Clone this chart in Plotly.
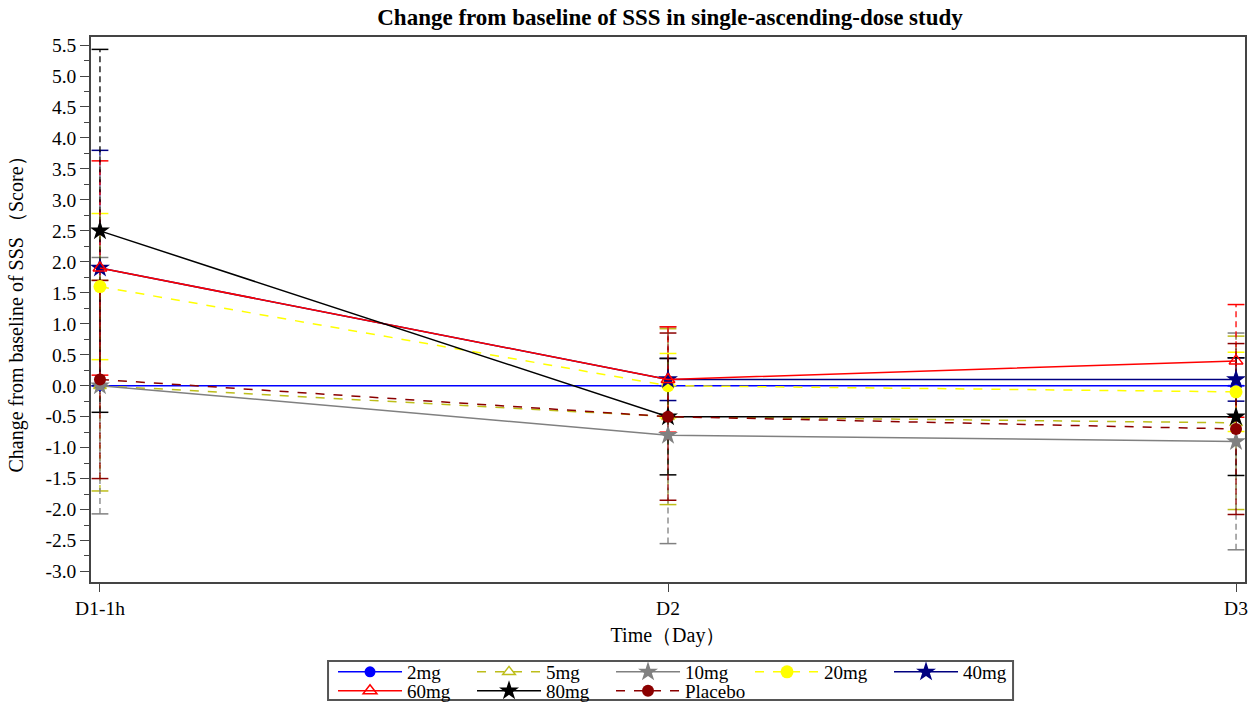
import plotly.graph_objects as go

categories = ["D1-1h", "D2", "D3"]

groups = ["2mg", "5mg", "10mg", "20mg", "40mg", "60mg", "80mg", "Placebo"]

mean_2mg = [0.0, 0.0, 0.0]
sd_2mg = [0.0, 0.0, 0.0]
mean_5mg = [0.0, -0.5, -0.6]
sd_5mg = [1.7, 1.42, 1.4]
mean_10mg = [0.0, -0.8, -0.9]
sd_10mg = [2.07, 1.75, 1.75]
mean_20mg = [1.6, 0.0, -0.1]
sd_20mg = [1.18, 0.52, 0.64]
mean_40mg = [1.9, 0.1, 0.1]
sd_40mg = [1.9, 0.34, 0.35]
mean_60mg = [1.9, 0.1, 0.4]
sd_60mg = [1.73, 0.85, 0.91]
mean_80mg = [2.5, -0.5, -0.5]
sd_80mg = [2.93, 0.94, 0.95]
mean_placebo = [0.1, -0.5, -0.7]
sd_placebo = [1.6, 1.35, 1.38]

y_tickvals = [-3.0, -2.5, -2.0, -1.5, -1.0, -0.5, 0.0, 0.5, 1.0, 1.5, 2.0, 2.5,
              3.0, 3.5, 4.0, 4.5, 5.0, 5.5]
y_ticktext = ["-3.0", "-2.5", "-2.0", "-1.5", "-1.0", "-0.5", "0.0", "0.5", "1.0",
              "1.5", "2.0", "2.5", "3.0", "3.5", "4.0", "4.5", "5.0", "5.5"]

means = [mean_2mg, mean_5mg, mean_10mg, mean_20mg, mean_40mg, mean_60mg, mean_80mg, mean_placebo]
sds = [sd_2mg, sd_5mg, sd_10mg, sd_20mg, sd_40mg, sd_60mg, sd_80mg, sd_placebo]

styles = {
    "2mg": dict(color="#0000FF", dash="solid", symbol="circle", size=11, fill=True),
    "5mg": dict(color="#BDBD1A", dash="dash", symbol="triangle-up-open", size=11, fill=False),
    "10mg": dict(color="#808080", dash="solid", symbol="star", size=15, fill=True),
    "20mg": dict(color="#FFFF00", dash="dash", symbol="circle", size=13, fill=True),
    "40mg": dict(color="#000080", dash="solid", symbol="star", size=15, fill=True),
    "60mg": dict(color="#FF0000", dash="solid", symbol="triangle-up-open", size=12, fill=False),
    "80mg": dict(color="#000000", dash="solid", symbol="star", size=15, fill=True),
    "Placebo": dict(color="#8B0000", dash="dash", symbol="circle", size=12, fill=True),
}

FONT = "Liberation Serif, Times New Roman, serif"

fig = go.Figure()

# error bars (dashed vertical lines + caps)
for g, m, s in zip(groups, means, sds):
    st = styles[g]
    xs, ys, cx, cy = [], [], [], []
    for c, mv, sv in zip(categories, m, s):
        xs += [c, c, None]
        ys += [mv - sv, mv + sv, None]
        cx += [c, c]
        cy += [mv - sv, mv + sv]
    fig.add_trace(go.Scatter(x=xs, y=ys, mode="lines", showlegend=False, hoverinfo="skip",
                             line=dict(color=st["color"], width=1.3, dash="6px,4px")))
    fig.add_trace(go.Scatter(x=cx, y=cy, mode="markers", showlegend=False, hoverinfo="skip",
                             marker=dict(symbol="line-ew", size=12,
                                         line=dict(color=st["color"], width=1.5))))

# mean lines
for i, (g, m) in enumerate(zip(groups, means)):
    st = styles[g]
    fig.add_trace(go.Scatter(
        x=categories, y=m, mode="lines+markers", name=g,
        legend="legend" if i < 5 else "legend2",
        line=dict(color=st["color"], width=1.5, dash=st["dash"]),
        marker=dict(symbol=st["symbol"], size=st["size"], color=st["color"],
                    line=dict(color=st["color"], width=1.5 if not st["fill"] else 0)),
    ))

legend_common = dict(orientation="h", bgcolor="rgba(0,0,0,0)", borderwidth=0,
                     font=dict(family=FONT, size=19, color="black"),
                     entrywidthmode="pixels", entrywidth=60, itemwidth=64,
                     xref="container", yref="container",
                     xanchor="left", yanchor="middle", traceorder="normal")

fig.update_layout(
    width=1251, height=702,
    margin=dict(l=91, r=6, t=37, b=120, autoexpand=False),
    paper_bgcolor="white", plot_bgcolor="white",
    font=dict(family=FONT, size=19, color="black"),
    title=dict(text="<b>Change from baseline of SSS in single-ascending-dose study</b>",
               x=0.5356, xanchor="center", y=0.976, yanchor="middle",
               font=dict(family=FONT, size=23, color="black")),
    legend=dict(x=0.2662, y=0.0427, **legend_common),
    legend2=dict(x=0.2662, y=0.0157, **legend_common),
    shapes=[dict(type="rect", xref="paper", yref="paper", x0=0.2054, x1=0.799,
                 y0=-0.145, y1=-0.2165, line=dict(color="#555555", width=2))],
)

fig.update_xaxes(
    type="category", range=[-0.0158, 2.0158],
    showline=True, linecolor="#444444", linewidth=1.5, mirror=True,
    ticks="outside", ticklen=8, tickcolor="#444444", showgrid=False, zeroline=False,
    tickfont=dict(family=FONT, size=19.5),
    title=dict(text="Time（Day）", font=dict(family=FONT, size=20), standoff=10),
)
fig.update_yaxes(
    range=[-3.17, 5.63], tickvals=y_tickvals, ticktext=y_ticktext,
    showline=True, linecolor="#444444", linewidth=1.5, mirror=True,
    ticks="outside", ticklen=9, tickcolor="#444444", showgrid=False, zeroline=False,
    minor=dict(ticks="outside", ticklen=5, dtick=0.25, tick0=0, tickcolor="#444444", showgrid=False),
    tickfont=dict(family=FONT, size=19.5),
    title=dict(text="Change from baseline of SSS （Score）", font=dict(family=FONT, size=20), standoff=16),
)

fig.write_html("out.html", config={"displayModeBar": False},
               post_script="document.body.style.margin='0px';")
